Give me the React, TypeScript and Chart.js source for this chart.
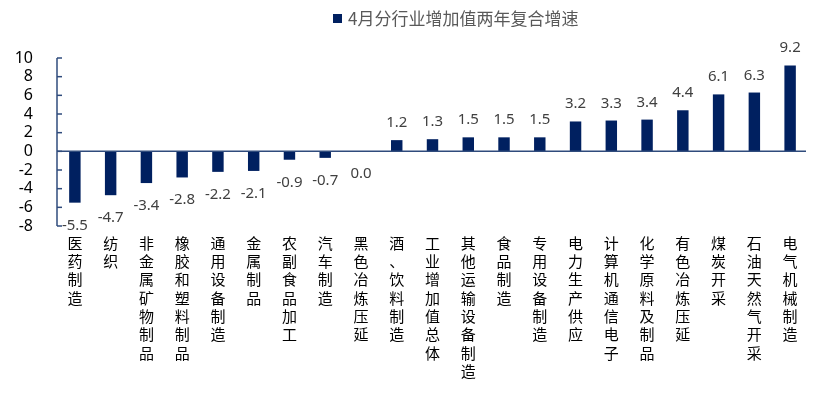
import React, { useEffect, useRef } from "react";
import { Chart, registerables } from "chart.js";

Chart.register(...registerables);

const categories: string[] = [
  "医药制造", "纺织", "非金属矿物制品", "橡胶和塑料制品", "通用设备制造", "金属制品",
  "农副食品加工", "汽车制造", "黑色冶炼压延", "酒、饮料制造", "工业增加值总体",
  "其他运输设备制造", "食品制造", "专用设备制造", "电力生产供应", "计算机通信电子",
  "化学原料及制品", "有色冶炼压延", "煤炭开采", "石油天然气开采", "电气机械制造",
];
const values: number[] = [
  -5.5, -4.7, -3.4, -2.8, -2.2, -2.1, -0.9, -0.7, 0.0, 1.2, 1.3,
  1.5, 1.5, 1.5, 3.2, 3.3, 3.4, 4.4, 6.1, 6.3, 9.2,
];
const seriesName = "4月分行业增加值两年复合增速";
const yTicks: number[] = [-8, -6, -4, -2, 0, 2, 4, 6, 8, 10];

const BAR = "#002060";
const AXIS = "#2f4b7c";
const NUM_FONT = "'Noto Sans', 'Noto Sans CJK SC', sans-serif";
const CJK_FONT = "'Noto Sans CJK SC', sans-serif";

const decorPlugin = {
  id: "decor",
  afterDatasetsDraw(chart: any) {
    const { ctx, chartArea, scales } = chart;
    const y = scales.y;
    const zeroY = y.getPixelForValue(0);
    ctx.save();
    ctx.strokeStyle = AXIS;
    ctx.lineWidth = 1.5;
    // y axis line
    ctx.beginPath();
    ctx.moveTo(chartArea.left, y.getPixelForValue(10));
    ctx.lineTo(chartArea.left, y.getPixelForValue(-8));
    ctx.stroke();
    // inner ticks
    yTicks.forEach((t) => {
      const py = y.getPixelForValue(t);
      ctx.beginPath();
      ctx.moveTo(chartArea.left, py);
      ctx.lineTo(chartArea.left + 5, py);
      ctx.stroke();
    });
    // zero line
    ctx.beginPath();
    ctx.moveTo(chartArea.left, zeroY);
    ctx.lineTo(chartArea.right - 2, zeroY);
    ctx.stroke();

    // data labels
    const meta = chart.getDatasetMeta(0);
    ctx.fillStyle = "#404040";
    ctx.font = `15px ${NUM_FONT}`;
    ctx.textAlign = "center";
    ctx.textBaseline = "alphabetic";
    meta.data.forEach((bar: any, i: number) => {
      const v = values[i];
      const txt = v.toFixed(1);
      if (v > 0) {
        ctx.fillText(txt, bar.x, bar.y - 13);
      } else {
        ctx.fillText(txt, bar.x, bar.y + 27);
      }
    });

    // legend
    ctx.fillStyle = BAR;
    ctx.fillRect(333, 14, 9, 9);
    ctx.fillStyle = "#595959";
    ctx.font = `17px ${CJK_FONT}`;
    ctx.textAlign = "left";
    ctx.textBaseline = "middle";
    ctx.fillText(seriesName, 348, 19);
    ctx.restore();
  },
};

export default function App() {
  const ref = useRef<HTMLCanvasElement | null>(null);
  useEffect(() => {
    if (!ref.current) return;
    const chart = new Chart(ref.current, {
      type: "bar",
      data: {
        labels: categories.map((c) => c.split("")),
        datasets: [
          {
            label: seriesName,
            data: values,
            backgroundColor: BAR,
            borderWidth: 0,
            barPercentage: 0.32,
            categoryPercentage: 1,
          },
        ],
      },
      plugins: [decorPlugin],
      options: {
        animation: false,
        responsive: false,
        maintainAspectRatio: false,
        layout: { padding: { left: 0, right: 14, top: 58, bottom: 0 } },
        plugins: {
          legend: { display: false },
          tooltip: { enabled: false },
        },
        scales: {
          x: {
            grid: { display: false },
            border: { display: false },
            ticks: {
              color: "#000000",
              font: { size: 15, family: CJK_FONT, lineHeight: 1.22 },
              padding: 0,
              autoSkip: false,
              maxRotation: 0,
              minRotation: 0,
            },
            afterFit: (scale: any) => {
              scale.height = 173;
            },
          },
          y: {
            min: -8,
            max: 10,
            grid: { display: false },
            border: { display: false },
            afterBuildTicks: (scale: any) => {
              scale.ticks = yTicks.map((v) => ({ value: v }));
            },
            ticks: {
              stepSize: 2,
              autoSkip: false,
              color: "#000000",
              font: { size: 16, family: NUM_FONT },
              padding: 16,
            },
            afterFit: (scale: any) => {
              scale.width = 57;
            },
          },
        },
      },
    });
    return () => chart.destroy();
  }, []);
  return (
    <div style={{ position: "fixed", left: 0, top: 0, width: 822, height: 399 }}>
      <canvas ref={ref} width={822} height={399} style={{ width: 822, height: 399 }} />
    </div>
  );
}
